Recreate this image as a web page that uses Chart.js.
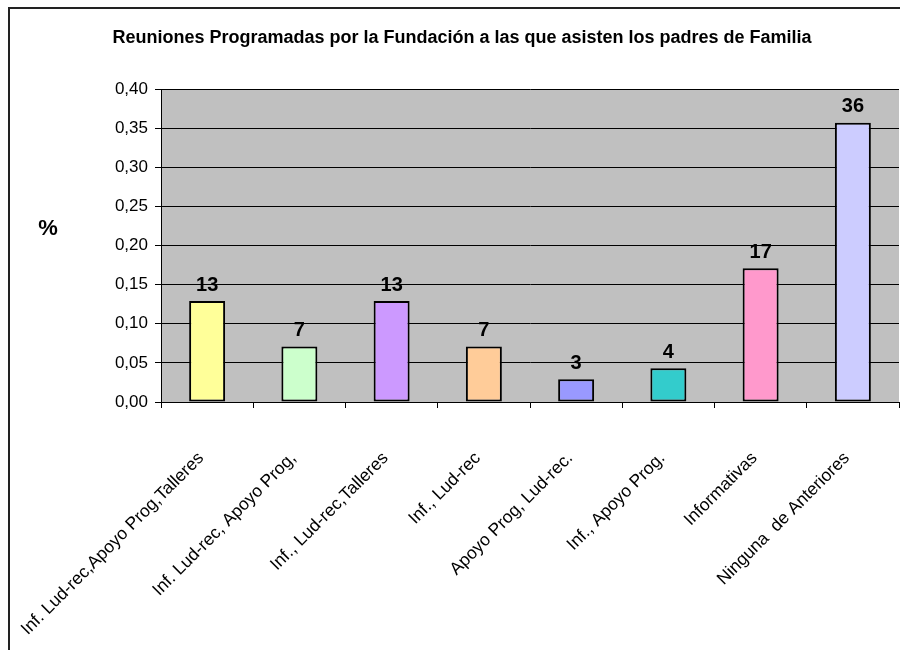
<!DOCTYPE html>
<html>
<head>
<meta charset="utf-8">
<script src="https://cdn.jsdelivr.net/npm/chart.js@4"></script>
<style>
  body { margin: 0; background: #fff; }
  canvas { display: block; }
</style>
</head>
<body>
<canvas id="reuniones" width="900" height="650"></canvas>
<script>
// Tipos de reunión y proporción de padres que asisten
const categorias = [
  "Inf. Lud-rec,Apoyo Prog,Talleres",
  "Inf. Lud-rec, Apoyo Prog,",
  "Inf., Lud-rec,Talleres",
  "Inf., Lud-rec",
  "Apoyo Prog, Lud-rec.",
  "Inf., Apoyo Prog.",
  "Informativas",
  "Ninguna  de Anteriores"
];
const proporciones = [0.129, 0.071, 0.129, 0.071, 0.029, 0.043, 0.171, 0.357];
const colores = ["#FFFF99", "#CCFFCC", "#CC99FF", "#FFCC99", "#9999FF", "#33CCCC", "#FF99CC", "#CCCCFF"];
const ticksY = [0, 0.05, 0.10, 0.15, 0.20, 0.25, 0.30, 0.35, 0.40];
const titulo = "Reuniones Programadas por la Fundación a las que asisten los padres de Familia";

const FUENTE = "'Liberation Sans', Arial, sans-serif";

// marco, fondo gris, título, "%" y porcentajes sobre las barras
const decorado = {
  id: "decorado",
  beforeDraw(chart) {
    const ctx = chart.ctx;
    const a = chart.chartArea;
    ctx.save();
    ctx.fillStyle = "#fff";
    ctx.fillRect(0, 0, chart.width, chart.height);
    ctx.strokeStyle = "#222";
    ctx.lineWidth = 2;
    ctx.beginPath();
    ctx.moveTo(9, chart.height + 5);
    ctx.lineTo(9, 8);
    ctx.lineTo(chart.width + 5, 8);
    ctx.stroke();
    ctx.fillStyle = "#C0C0C0";
    ctx.fillRect(a.left, a.top, a.right - a.left, a.bottom - a.top);
    ctx.fillStyle = "#000";
    ctx.textAlign = "center";
    ctx.textBaseline = "middle";
    ctx.font = "bold 18px " + FUENTE;
    ctx.fillText(titulo, 462, 38);
    ctx.font = "bold 22px " + FUENTE;
    ctx.fillText("%", 48, 229);
    ctx.restore();
  },
  afterDatasetsDraw(chart) {
    const ctx = chart.ctx;
    const meta = chart.getDatasetMeta(0);
    ctx.save();
    ctx.fillStyle = "#000";
    ctx.textAlign = "center";
    ctx.textBaseline = "bottom";
    ctx.font = "bold 20px " + FUENTE;
    meta.data.forEach((bar, i) => {
      ctx.fillText(Math.round(proporciones[i] * 100), bar.x, bar.y - 6);
    });
    ctx.restore();
  }
};

new Chart(document.getElementById("reuniones"), {
  type: "bar",
  data: {
    labels: categorias,
    datasets: [{
      data: proporciones,
      backgroundColor: colores,
      borderColor: "#000",
      borderWidth: 2,
      borderSkipped: false,
      barPercentage: 0.39,
      categoryPercentage: 1
    }]
  },
  options: {
    responsive: false,
    devicePixelRatio: 1,
    animation: false,
    layout: { padding: { top: 89, left: 0, right: 1, bottom: 0 } },
    plugins: {
      legend: { display: false },
      tooltip: { enabled: false },
      title: { display: false }
    },
    scales: {
      x: {
        offset: true,
        grid: {
          offset: true,
          drawOnChartArea: false,
          drawTicks: true,
          tickLength: 6,
          color: "#000"
        },
        border: { display: true, color: "#000", width: 1 },
        ticks: {
          autoSkip: false,
          minRotation: 45,
          maxRotation: 45,
          padding: 40,
          labelOffset: -6,
          color: "#000",
          font: { family: FUENTE, size: 17.5 }
        },
        afterFit(scale) {
          scale.height = 248;
          scale.paddingLeft = 0;
          scale.paddingRight = 0;
        }
      },
      y: {
        min: 0,
        max: 0.4,
        afterBuildTicks(scale) { scale.ticks = ticksY.map(v => ({ value: v })); },
        grid: { color: "#000", tickLength: 6, drawTicks: true },
        border: { display: true, color: "#000", width: 1 },
        ticks: {
          padding: 7,
          color: "#000",
          font: { family: FUENTE, size: 17 },
          callback: v => v.toFixed(2).replace(".", ",")
        },
        afterFit(scale) { scale.width = 161; }
      }
    }
  },
  plugins: [decorado]
});
</script>
</body>
</html>
